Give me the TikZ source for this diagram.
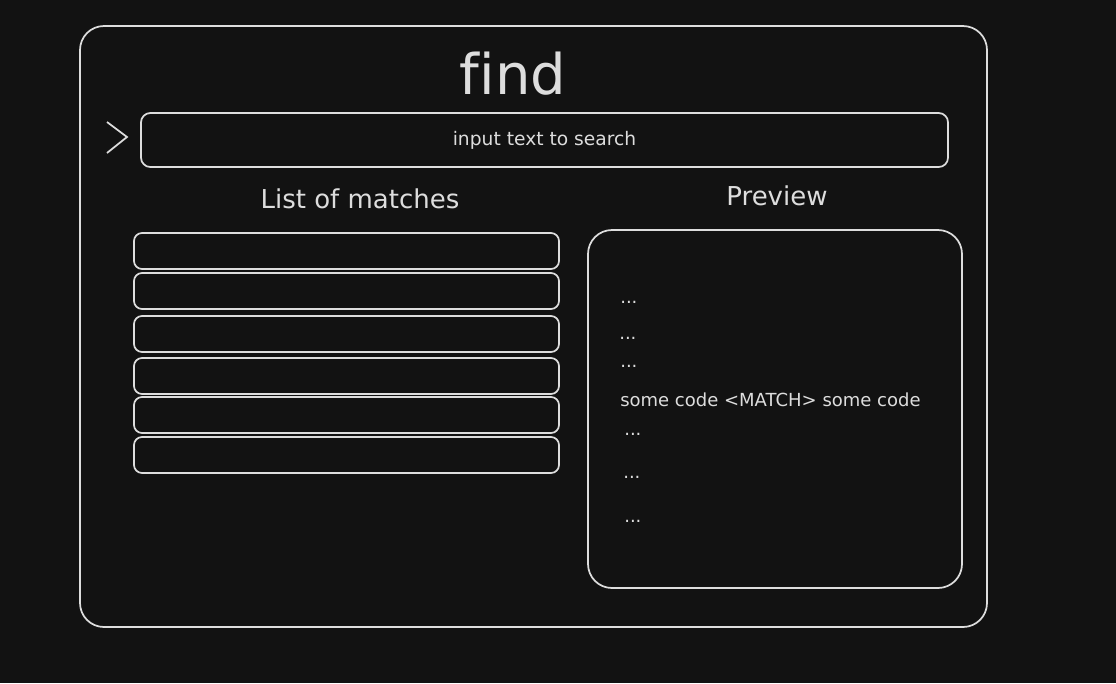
\documentclass[tikz,border=0pt]{standalone}
\usepackage{fontspec}
\setmainfont{DejaVu Sans}
\usetikzlibrary{fit}
\definecolor{bg}{HTML}{121212}
\definecolor{ink}{HTML}{DDDDDD}
\begin{document}
\begin{tikzpicture}
[x=0.75pt,y=-0.75pt,
 every node/.style={text=ink,inner sep=0pt},
 frame/.style={draw=ink,line width=1.3pt,rounded corners=18pt},
 bar/.style={draw=ink,line width=1.3pt,rounded corners=7pt},
 row/.style={draw=ink,line width=1.3pt,rounded corners=6pt},
 title/.style={font=\fontsize{19.5}{23}\selectfont},
 code/.style={font=\fontsize{13.5}{16}\selectfont,anchor=west}]
    \fill[bg] (0,0) rectangle (1116,683);
    \node[frame,fit={(80,26) (987,627)}] (window) {};
    \node[font=\fontsize{42}{46}\selectfont] (find) at (513,74) {f\kern0pt ind};
    % prompt and search field
    \draw[ink,line width=1.3pt] (107,122) -- (127,137) -- (107,153);
    \node[bar,fit={(141,113) (948,167)}] (search) {};
    \node[font=\fontsize{14}{16}\selectfont] (hint) at (search) {input text to search};
    % left column
    \node[title] (listtitle) at (360,199) {List of matches};
    \foreach \y [count=\i] in {233,273,316,358,397,437}
        \node[row,fit={(134,\y) (559,\y+36)}] (match\i) {};
    % right column
    \node[title] (previewtitle) at (777,196) {Preview};
    \node[frame,fit={(588,230) (962,588)}] (preview) {};
    \node[code] (dotsa) at (620,302) {...};
    \node[code] (dotsb) at (619,338) {...};
    \node[code] (dotsc) at (620,366) {...};
    \node[code] (line) at (620,400) {some code <MATCH> some code};
    \node[code] (dotsd) at (624,434) {...};
    \node[code] (dotse) at (623,477) {...};
    \node[code] (dotsf) at (624,521) {...};
\end{tikzpicture}
\end{document}
